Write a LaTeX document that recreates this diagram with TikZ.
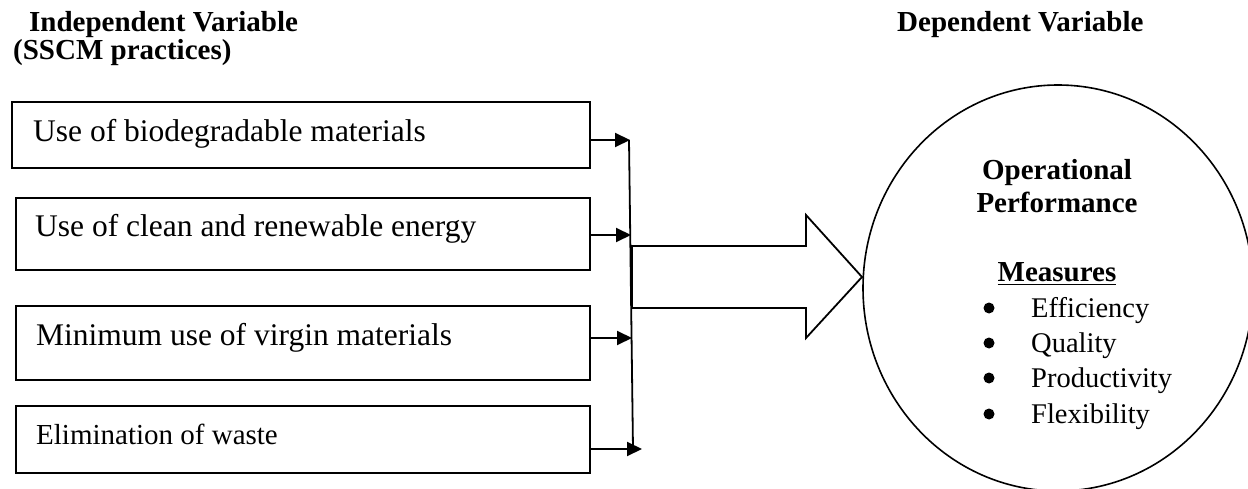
\documentclass[tikz,border=0pt]{standalone}
\usepackage{fontspec}
\setmainfont{Liberation Serif}
\usetikzlibrary{arrows.meta,shapes.geometric}
\begin{document}
\begin{tikzpicture}[x=1pt,y=-1pt,
  boxnode/.style={draw, line width=2.2pt, inner sep=0pt, anchor=north west},
  boxtext/.style={anchor=base west, inner sep=0pt, font=\fontsize{31.5}{36}\selectfont},
  smalltext/.style={anchor=base west, inner sep=0pt, font=\fontsize{29}{34}\selectfont},
  head/.style={anchor=base west, inner sep=0pt, font=\fontsize{29}{34}\selectfont\bfseries},
  ctitle/.style={anchor=base, inner sep=0pt, font=\fontsize{29}{34}\selectfont\bfseries},
  item/.style={anchor=base west, inner sep=0pt, font=\fontsize{28.5}{34}\selectfont},
  bul/.style={circle, fill, inner sep=0pt, minimum size=11pt},
  arr/.style={-{Triangle[length=15pt,width=14pt]}, line width=2pt},
  conn/.style={line width=1.8pt}
]
\useasboundingbox (0,0) rectangle (1248,489);

% headers
\node[head] (h1) at (29,32) {Independent Variable};
\node[head] (h2) at (13,60) {(SSCM practices)};
\node[head] (h3) at (897,32) {Dependent Variable};

% boxes
\node[boxnode, minimum width=578pt, minimum height=66pt] (b1) at (11,101) {};
\node[boxnode, minimum width=574pt, minimum height=72pt] (b2) at (15,197) {};
\node[boxnode, minimum width=574pt, minimum height=74pt] (b3) at (15,305) {};
\node[boxnode, minimum width=574pt, minimum height=67pt] (b4) at (15,405) {};

\node[boxtext] (t1) at (33,142) {Use of biodegradable materials};
\node[boxtext] (t2) at (35,237) {Use of clean and renewable energy};
\node[boxtext] (t3) at (36,345) {Minimum use of virgin materials};
\node[smalltext] (t4) at (36,444) {Elimination of waste};

% collector line
\coordinate (vtop) at (629,140);
\coordinate (vbot) at (633,449);
\coordinate (v1) at (630,140);
\coordinate (v2) at (631,235);
\coordinate (v3) at (632,338);
\coordinate (v4) at (642,449);
\draw[conn] (vtop) -- (vbot);
\draw[arr] (b1.east |- v1) -- (v1);
\draw[arr] (b2.east |- v2) -- (v2);
\draw[arr] (b3.east |- v3) -- (v3);
\draw[arr] (b4.east |- v4) -- (v4);

% big arrow
\draw[conn, line join=miter] (632,246) -- (806,246) -- (806,215) -- (862,277)
  -- (806,338) -- (806,308) -- (632,308) -- cycle;

% ellipse
\node[draw, ellipse, line width=1.6pt, minimum width=390pt, minimum height=406pt, inner sep=0pt] (op) at (1058,288) {};

\node[ctitle] (c1) at (1057,180) {Operational};
\node[ctitle] (c2) at (1057,213) {Performance};
\node[ctitle] (c3) at (1057,282) {\underline{Measures}};

\node[bul] (d1) at (989,308) {};
\node[bul] (d2) at (989,343) {};
\node[bul] (d3) at (989,378) {};
\node[bul] (d4) at (989,414) {};
\node[item] (i1) at (1031,317) {Efficiency};
\node[item] (i2) at (1031,352) {Quality};
\node[item] (i3) at (1031,387) {Productivity};
\node[item] (i4) at (1031,423) {Flexibility};
\end{tikzpicture}
\end{document}
